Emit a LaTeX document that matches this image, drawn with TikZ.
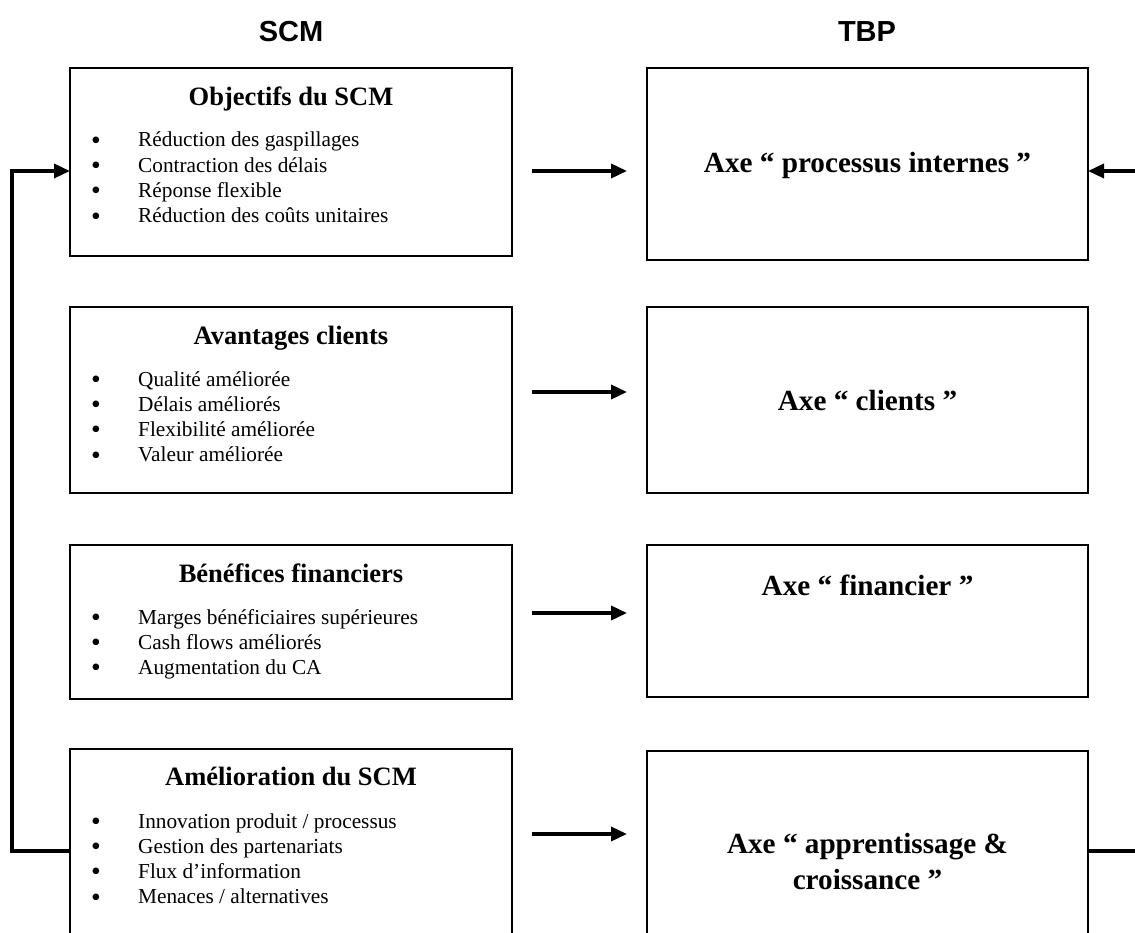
\documentclass[tikz,border=0pt]{standalone}
\usepackage{fontspec}
\setmainfont{Liberation Serif}
\newfontfamily\headfont{Liberation Sans}
\usetikzlibrary{arrows.meta}

% bullet of the lists, a little heavier than the text bullet
\newcommand{\itembullet}{\raisebox{-0.11em}{\scalebox{1.3}{\textbullet}}}

\begin{document}
\begin{tikzpicture}[x=1pt,y=-1pt,
  box/.style={draw, line width=2pt, rectangle, anchor=north west,
              inner sep=0pt, outer sep=0pt},
  lbox/.style={box, minimum width=442pt},
  rbox/.style={box, minimum width=441pt},
  ttl/.style={anchor=base, inner sep=0pt,
              font=\fontsize{26.5}{30}\selectfont\bfseries},
  lst/.style={anchor=base west, inner sep=0pt,
              font=\fontsize{21.3}{25.3}\selectfont},
  axe/.style={anchor=base, align=center, inner sep=0pt,
              font=\fontsize{29.2}{36}\selectfont\bfseries},
  hdr/.style={anchor=base, inner sep=0pt,
              font=\headfont\fontsize{29}{34}\selectfont\bfseries},
  link/.style={line width=3.5pt, -{Triangle[length=16pt,width=14pt]}},
]
\useasboundingbox (0,0) rectangle (1135,933);
\fill[white] (0,0) rectangle (1135,933);

% column headings
\node[hdr] (hscm) at (291,42) {SCM};
\node[hdr] (htbp) at (867,42) {TBP};

% left column: SCM boxes
\node[lbox, minimum height=188pt] (l1) at (70,68) {};
\node[lbox, minimum height=186pt] (l2) at (70,307) {};
\node[lbox, minimum height=154pt] (l3) at (70,545) {};
\node[lbox, minimum height=260pt] (l4) at (70,749) {};

\node[ttl] (l1t) at (291,106) {Objectifs du SCM};
\node[lst] (l1i) at (91,147) {\begin{tabular}[t]{@{}p{47pt}@{}l@{}}
  \itembullet & Réduction des gaspillages\\
  \itembullet & Contraction des délais\\
  \itembullet & Réponse flexible\\
  \itembullet & Réduction des coûts unitaires
\end{tabular}};

\node[ttl] (l2t) at (291,344) {Avantages clients};
\node[lst] (l2i) at (91,386) {\begin{tabular}[t]{@{}p{47pt}@{}l@{}}
  \itembullet & Qualité améliorée\\
  \itembullet & Délais améliorés\\
  \itembullet & Flexibilité améliorée\\
  \itembullet & Valeur améliorée
\end{tabular}};

\node[ttl] (l3t) at (291,582) {Bénéfices financiers};
\node[lst] (l3i) at (91,624) {\begin{tabular}[t]{@{}p{47pt}@{}l@{}}
  \itembullet & Marges bénéficiaires supérieures\\
  \itembullet & Cash flows améliorés\\
  \itembullet & Augmentation du CA
\end{tabular}};

\node[ttl] (l4t) at (291,785) {Amélioration du SCM};
\node[lst] (l4i) at (91,828) {\begin{tabular}[t]{@{}p{47pt}@{}l@{}}
  \itembullet & Innovation produit / processus\\
  \itembullet & Gestion des partenariats\\
  \itembullet & Flux d’information\\
  \itembullet & Menaces / alternatives
\end{tabular}};

% right column: TBP axes
\node[rbox, minimum height=192pt] (r1) at (647,68) {};
\node[rbox, minimum height=186pt] (r2) at (647,307) {};
\node[rbox, minimum height=152pt] (r3) at (647,545) {};
\node[rbox, minimum height=260pt] (r4) at (647,751) {};

% (the base anchor of a two-line node sits on its last line)
\node[axe] (r1t) at (867.5,173) {Axe “ processus internes ”};
\node[axe] (r2t) at (867.5,410) {Axe “ clients ”};
\node[axe] (r3t) at (867.5,595) {Axe “ financier ”};
\node[axe] (r4t) at (867.5,889) {Axe “ apprentissage \&\\ croissance ”};

% horizontal arrows between the columns
\coordinate (a1s) at (532,171); \coordinate (a1e) at (627,171);
\coordinate (a2s) at (532,392); \coordinate (a2e) at (627,392);
\coordinate (a3s) at (532,613); \coordinate (a3e) at (627,613);
\coordinate (a4s) at (532,834); \coordinate (a4e) at (627,834);
\draw[link] (a1s) -- (a1e);
\draw[link] (a2s) -- (a2e);
\draw[link] (a3s) -- (a3e);
\draw[link] (a4s) -- (a4e);

% feedback loops on both sides
\coordinate (fbL1) at (12,171);
\coordinate (fbL2) at (12,851);
\draw[link] (fbL2 -| l4.west) -- (fbL2) -- (fbL1) -- (fbL1 -| l1.west);

\coordinate (fbR1) at (1160,171);
\coordinate (fbR2) at (1160,851);
\draw[link] (fbR2 -| r4.east) -- (fbR2) -- (fbR1) -- (fbR1 -| r1.east);
\end{tikzpicture}
\end{document}
